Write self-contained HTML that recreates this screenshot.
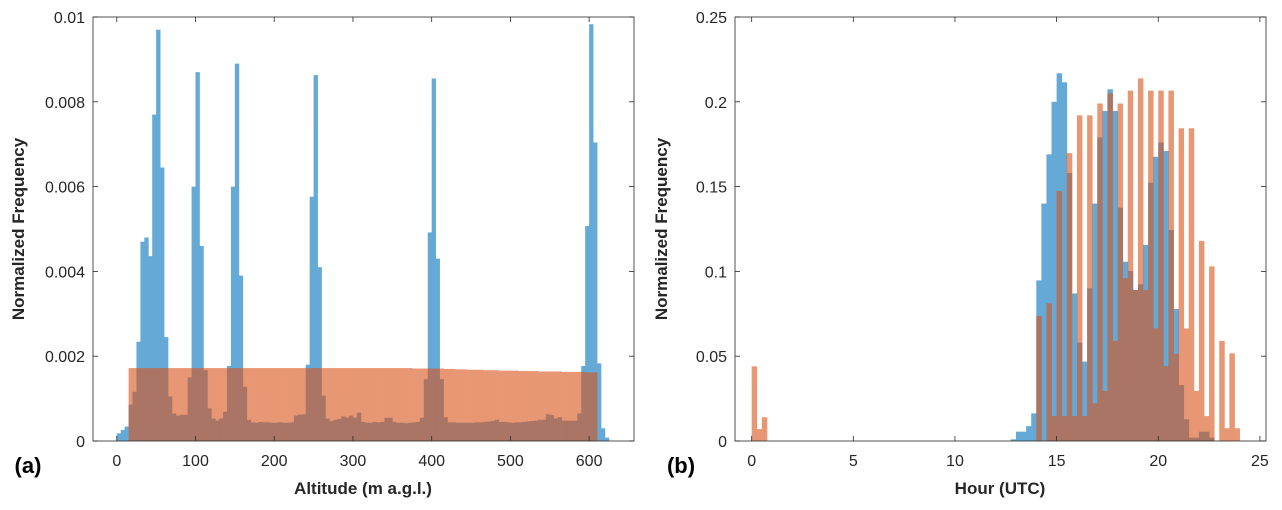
<!DOCTYPE html>
<html><head><meta charset="utf-8">
<style>
html,body{margin:0;padding:0;background:#fff;}
svg{display:block;font-family:"Liberation Sans",Arial,sans-serif;}
.tl{font-size:16px;fill:#262626;}
.al{font-size:17px;font-weight:bold;fill:#262626;}
</style></head>
<body>
<svg id="chart" width="1282" height="510" viewBox="0 0 1282 510">
<g id="pa"></g>
<g id="pb"></g>
<text x="28" y="473" text-anchor="middle" style="font-size:22px;font-weight:bold;fill:#000">(a)</text>
<text x="681" y="473" text-anchor="middle" style="font-size:22px;font-weight:bold;fill:#000">(b)</text>
<text class="al" x="363" y="494" text-anchor="middle">Altitude  (m a.g.l.)</text>
<text class="al" x="1000" y="494" text-anchor="middle">Hour (UTC)</text>
<text class="al" transform="translate(24,229) rotate(-90)" text-anchor="middle">Normalized Frequency</text>
<text class="al" transform="translate(667,229) rotate(-90)" text-anchor="middle">Normalized Frequency</text>
</svg>
<script>
// Panel (a): altitude histograms, 5 m bins
const altBlueStart = 0;
const altBinWidth = 5;
const altBlue = [0.00018,0.00026,0.00034,0.00086,0.00116,0.00234,0.0047,0.0048,0.00436,0.0077,
0.0097,0.00645,0.00245,0.00105,0.00065,0.0006,0.00062,0.00062,0.0015,0.006,
0.0087,0.0046,0.00167,0.00077,0.00053,0.00048,0.00053,0.00069,0.00177,0.006,
0.0089,0.0039,0.00128,0.0005,0.00044,0.00043,0.00045,0.00044,0.00044,0.00043,
0.00043,0.00044,0.00043,0.00043,0.00044,0.0006,0.00062,0.00063,0.0018,0.00576,
0.00863,0.0041,0.00107,0.00053,0.00047,0.0005,0.00052,0.00058,0.00055,0.0006,
0.00055,0.00067,0.00045,0.00043,0.00043,0.00045,0.00044,0.00045,0.00055,0.00055,
0.00045,0.00043,0.00043,0.00042,0.00043,0.00044,0.00045,0.00055,0.00146,0.00492,
0.00855,0.0043,0.00146,0.00056,0.00044,0.00044,0.00043,0.00043,0.00043,0.00043,
0.00043,0.00044,0.00044,0.00045,0.00046,0.00047,0.0005,0.00045,0.00045,0.00044,
0.00043,0.00044,0.00044,0.00045,0.00046,0.00047,0.00048,0.0005,0.0005,0.00063,
0.00061,0.00053,0.00056,0.00048,0.00048,0.00048,0.00048,0.00065,0.00177,0.00507,
0.00983,0.00704,0.00183,0.0003,0.00008];
const altOrangeStart = 15;
const altOrange = [0.00172,0.00172,0.00172,0.00172,0.00172,0.00172,0.00172,0.00172,0.00172,0.00172,
0.00172,0.00172,0.00172,0.00172,0.00172,0.00172,0.00172,0.00172,0.00172,0.00172,
0.00172,0.00172,0.00172,0.00172,0.00172,0.00172,0.00172,0.00172,0.00172,0.00172,
0.00172,0.00172,0.00172,0.00172,0.00172,0.00172,0.00172,0.00172,0.00172,0.00172,
0.00172,0.00172,0.00172,0.00172,0.00172,0.00172,0.00172,0.00172,0.00172,0.00172,
0.00172,0.00172,0.00172,0.00172,0.00172,0.00172,0.00172,0.00172,0.00172,0.00172,
0.00172,0.00172,0.00172,0.00172,0.00172,0.00172,0.00172,0.00172,0.00172,0.00172,
0.00172,0.00172,0.00171,0.00171,0.00171,0.00171,0.00171,0.00171,0.00171,0.00171,
0.0017,0.0017,0.0017,0.00169,0.00169,0.00169,0.00168,0.00168,0.00168,0.00168,
0.00167,0.00167,0.00167,0.00167,0.00166,0.00166,0.00166,0.00166,0.00166,0.00165,
0.00165,0.00165,0.00165,0.00165,0.00164,0.00164,0.00164,0.00164,0.00164,0.00164,
0.00163,0.00163,0.00163,0.00163,0.00163,0.00163,0.00162,0.00162,0.00162];
const altXTicks = [0,100,200,300,400,500,600];
const altYTicks = [0,0.002,0.004,0.006,0.008,0.01];
const altYTickLabels = ["0","0.002","0.004","0.006","0.008","0.01"];

// Panel (b): hour histograms, 0.25 h bins
const hrBinWidth = 0.25;
const hrBlueStart = 12.75;
const hrBlue = [0.001,0.0055,0.0055,0.0088,0.0163,0.0947,0.140,0.169,0.200,0.2168,
0.2115,0.158,0.087,0.058,0.0468,0.090,0.140,0.179,0.1946,0.2074,
0.1946,0.1376,0.1057,0.1002,0.089,0.0924,0.1156,0.1523,0.1676,0.176,
0.171,0.1244,0.0778,0.033,0.0128,0.002,0.002,0.0055,0.0055,0.002];
const hrOrangeStart = 12.75;
const hrOrange = [0,0,0,0,0,0.0737,0,0.0812,0.0147,0.1474,
0.0147,0.1697,0.0147,0.192,0.0147,0.192,0.0222,0.199,0.0295,0.205,
0.059,0.199,0.096,0.2066,0.089,0.2138,0.089,0.2066,0.0664,0.2066,
0.0442,0.2066,0.0513,0.1844,0.0664,0.1844,0.0295,0.118,0.0147,0.103,
0,0.059,0.0075,0.0517,0.0075];
const hrOrangeEarlyStart = 0;
const hrOrangeEarly = [0.044,0.007,0.014];
const hrXTicks = [0,5,10,15,20,25];
const hrYTicks = [0,0.05,0.1,0.15,0.2,0.25];
const hrYTickLabels = ["0","0.05","0.1","0.15","0.2","0.25"];

const NS = "http://www.w3.org/2000/svg";
function mk(tag, attrs, parent){
  const e = document.createElementNS(NS, tag);
  for (const k in attrs) e.setAttribute(k, attrs[k]);
  parent.appendChild(e);
  return e;
}

function panel(box, xdom, ydom){
  const sx = v => box.l + (v - xdom[0]) / (xdom[1] - xdom[0]) * (box.r - box.l);
  const sy = v => box.b - (v - ydom[0]) / (ydom[1] - ydom[0]) * (box.b - box.t);
  return {sx, sy};
}

function drawBars(g, ax, start, width, vals, color, name){
  const grp = mk('g', {'opacity':'0.6'}, g);
  
  
  vals.forEach((v, i) => {
    if (v <= 0) return;
    const x0 = ax.sx(start + i * width), x1 = ax.sx(start + (i + 1) * width);
    const y = ax.sy(v), y0 = ax.sy(0);
    const r = mk('rect', {x:x0, y:y, width:(x1 - x0) + 0.4, height:y0 - y, fill:color}, grp);
    
    
  });
}

function drawAxes(g, ax, box, xt, yt, ytl, name){
  const a = mk('g', {}, g);
  
  
  mk('rect', {x:box.l, y:box.t, width:box.r - box.l, height:box.b - box.t, fill:'none', stroke:'#262626', 'stroke-width':'0.8'}, a);
  xt.forEach(v => {
    const x = ax.sx(v);
    mk('line', {x1:x, x2:x, y1:box.b, y2:box.b - 5, stroke:'#262626', 'stroke-width':'0.8'}, a);
    mk('line', {x1:x, x2:x, y1:box.t, y2:box.t + 5, stroke:'#262626', 'stroke-width':'0.8'}, a);
    const t = mk('text', {x:x, y:box.b + 25, 'text-anchor':'middle', class:'tl'}, a);
    t.textContent = String(v);
    
    
  });
  yt.forEach((v, i) => {
    const y = ax.sy(v);
    mk('line', {x1:box.l, x2:box.l + 5, y1:y, y2:y, stroke:'#262626', 'stroke-width':'0.8'}, a);
    mk('line', {x1:box.r, x2:box.r - 5, y1:y, y2:y, stroke:'#262626', 'stroke-width':'0.8'}, a);
    const t = mk('text', {x:box.l - 8, y:y + 6, 'text-anchor':'end', class:'tl'}, a);
    t.textContent = ytl[i];
    
    
  });
}

// Panel a
const boxA = {l:93, r:634, t:17, b:441};
const pa = document.getElementById('pa');
const axA = panel(boxA, [-30.2, 657], [0, 0.01]);
drawBars(pa, axA, altBlueStart, altBinWidth, altBlue, '#0072BD', 'altitude-blue');
drawBars(pa, axA, altOrangeStart, altBinWidth, altOrange, '#D95319', 'altitude-orange');
drawAxes(pa, axA, boxA, altXTicks, altYTicks, altYTickLabels, 'panel-a');

// Panel b
const boxB = {l:735, r:1266, t:17, b:441};
const pb = document.getElementById('pb');
const axB = panel(boxB, [-0.82, 25.3], [0, 0.25]);
drawBars(pb, axB, hrBlueStart, hrBinWidth, hrBlue, '#0072BD', 'hour-blue');
drawBars(pb, axB, hrOrangeStart, hrBinWidth, hrOrange, '#D95319', 'hour-orange');
drawBars(pb, axB, hrOrangeEarlyStart, hrBinWidth, hrOrangeEarly, '#D95319', 'hour-orange-early');
drawAxes(pb, axB, boxB, hrXTicks, hrYTicks, hrYTickLabels, 'panel-b');
</script>
</body></html>
